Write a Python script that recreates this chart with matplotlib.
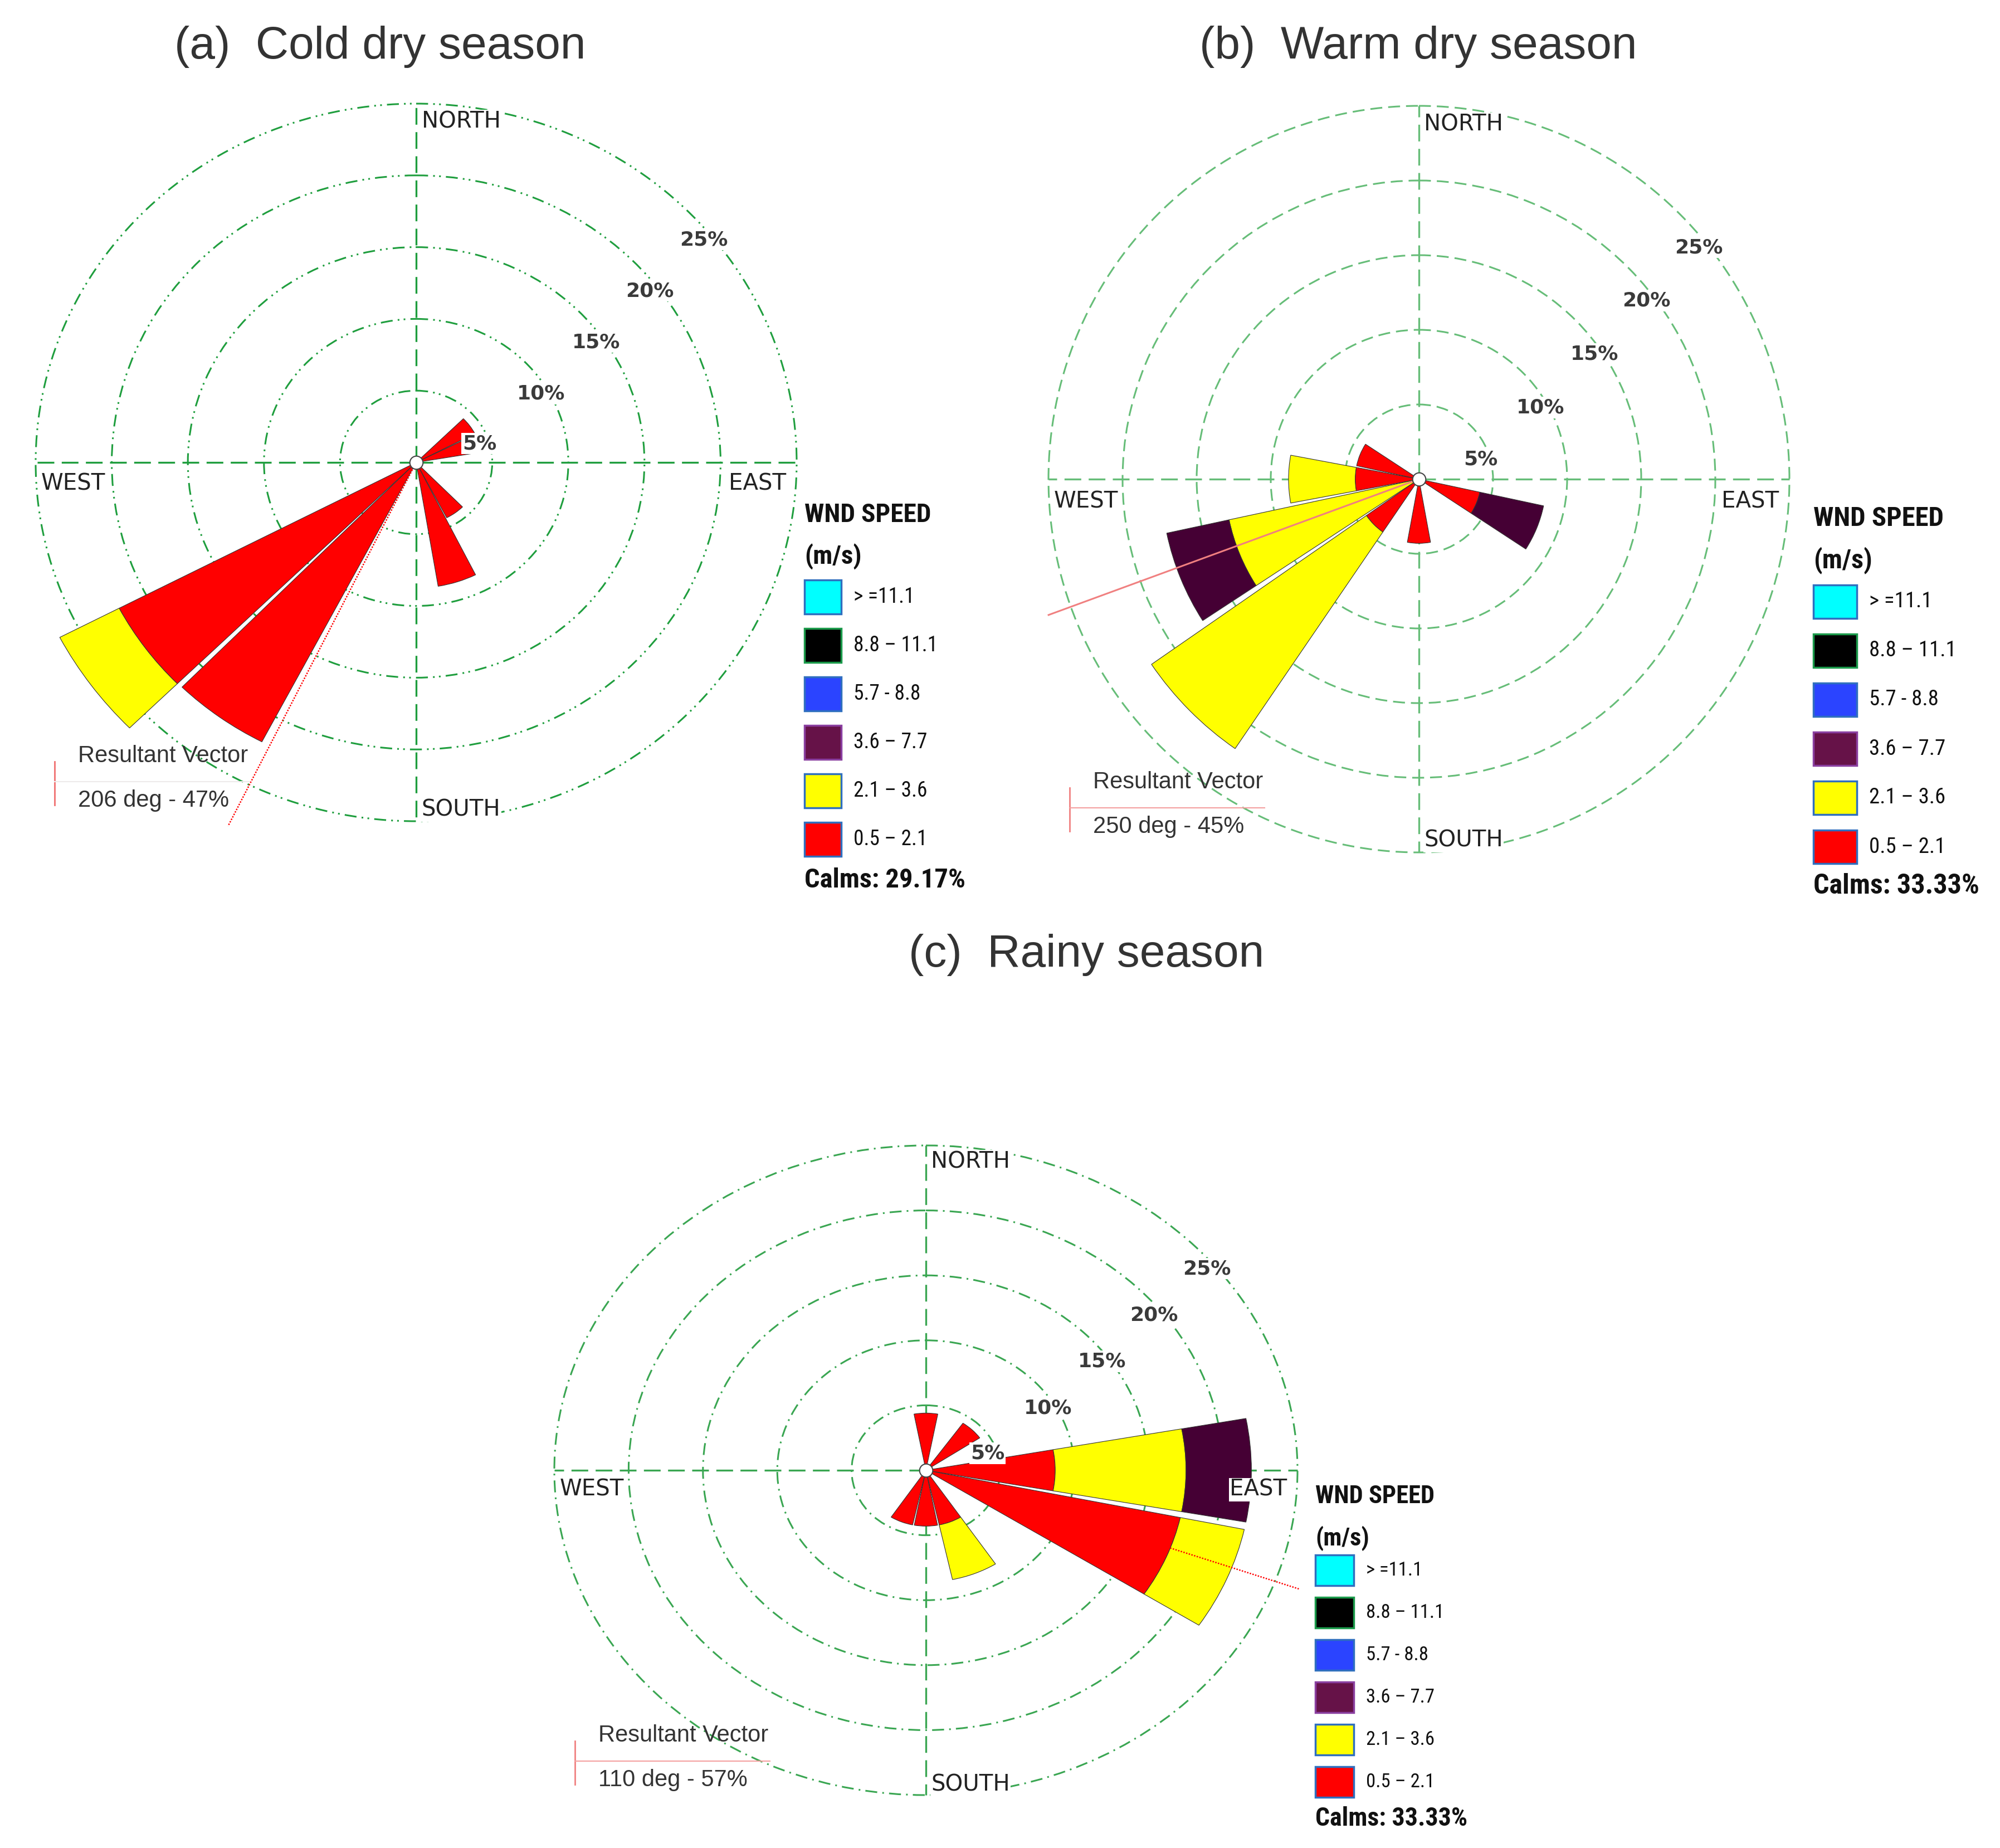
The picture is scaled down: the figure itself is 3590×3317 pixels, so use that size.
import matplotlib
matplotlib.use("Agg")
import matplotlib.pyplot as plt
import numpy as np
from matplotlib.lines import Line2D
from matplotlib.patches import Rectangle

W, H = 3590, 3317

# speed classes as listed in the legend (top to bottom)
SPEED_LABELS = ["> =11.1", "8.8 – 11.1", "5.7 - 8.8", "3.6 – 7.7", "2.1 – 3.6", "0.5 – 2.1"]
SPEED_COLORS = ["#00ffff", "#000000", "#2b44ff", "#661248", "#ffff00", "#ff0000"]
SPEED_EDGES = ["#2f6fbf", "#1a9a4a", "#2f6fbf", "#8a3fa0", "#2f6fbf", "#2f6fbf"]

RINGS = [5, 10, 15, 20, 25]
RING_LABELS = ["5%", "10%", "15%", "20%", "25%"]

# (a) cold dry season (18 deg sectors)
cold_dirs = [54, 72, 144, 162, 216, 234]
cold_red = [4.35, 4.35, 4.35, 8.75, 21.95, 22.0]
cold_yellow = [0, 0, 0, 0, 0, 4.4]
cold_purple = [0, 0, 0, 0, 0, 0]
cold_resultant = 206
cold_res_text = "206 deg - 47%"
cold_calms = "Calms: 29.17%"

# (b) warm dry season (22.5 deg sectors)
warm_dirs = [112.5, 180, 225, 247.5, 270, 292.5]
warm_red = [4.2, 4.3, 4.3, 0, 4.3, 4.3]
warm_yellow = [0, 0, 17.6, 13.1, 4.5, 0]
warm_purple = [4.4, 0, 0, 4.3, 0, 0]
warm_resultant = 250
warm_res_text = "250 deg - 45%"
warm_calms = "Calms: 33.33%"

# (c) rainy season (22.5 deg sectors)
rainy_dirs = [0, 45, 90, 112.5, 157.5, 180, 202.5]
rainy_red = [4.4, 4.4, 8.7, 17.5, 4.3, 4.3, 4.3]
rainy_yellow = [0, 0, 8.8, 4.4, 4.3, 0, 0]
rainy_purple = [0, 0, 4.4, 0, 0, 0, 0]
rainy_resultant = 110
rainy_res_text = "110 deg - 57%"
rainy_calms = "Calms: 33.33%"

RED, YELLOW, PURPLE = "#ff0000", "#ffff00", "#450034"
NARROW = ["Liberation Sans Narrow", "Roboto Condensed", "Open Sans Condensed",
          "Roboto", "DejaVu Sans"]
ARIAL = ["Liberation Sans", "DejaVu Sans"]


def fx(px):
    return px / W


def fy(py):
    return 1 - py / H


def rect(x0, y0, x1, y1):
    return [fx(x0), fy(y1), (x1 - x0) / W, (y1 - y0) / H]


fig = plt.figure(figsize=(W / 100, H / 100), dpi=100)


def draw_rose(box, dirs, width, red, yellow, purple, res_dir, res_len,
              res_style, grid_color, ring_style):
    ax = fig.add_axes(rect(*box), projection="polar")
    ax.set_aspect("auto")
    ax.set_theta_zero_location("N")
    ax.set_theta_direction(-1)

    theta = np.deg2rad(dirs)
    red = np.array(red, float)
    yellow = np.array(yellow, float)
    purple = np.array(purple, float)
    stacks = [(red, np.zeros_like(red), RED),
              (yellow, red, YELLOW),
              (purple, red + yellow, PURPLE)]
    for vals, bottom, color in stacks:
        m = vals > 0
        if m.any():
            ax.bar(theta[m], vals[m], width=np.deg2rad(width), bottom=bottom[m],
                   color=color, edgecolor="#333333", linewidth=0.8,
                   clip_on=False, zorder=3)

    ax.set_ylim(0, 25)
    ax.set_rgrids(RINGS, labels=[""] * len(RINGS))
    ax.set_thetagrids([0, 90, 180, 270], labels=[""] * 4)
    ax.yaxis.grid(True, color=grid_color, linewidth=2.2, linestyle=ring_style)
    ax.xaxis.grid(True, color=grid_color, linewidth=2.4, linestyle=(0, (9, 4)))
    for gl in ax.yaxis.get_gridlines() + ax.xaxis.get_gridlines():
        gl.set_clip_on(False)
    ax.spines["polar"].set_visible(False)
    ax.set_axisbelow(True)

    # ring percentage labels
    lab_r = [4.35, 9.5, 14.5, 19.45, 24.45]
    lab_t = [72.5, 59.7, 54.7, 52.1, 50.6]
    for r, t, s in zip(lab_r, lab_t, RING_LABELS):
        ax.text(np.deg2rad(t), r, s, ha="center", va="center", fontsize=26,
                weight="bold", color="#3a3a3a", zorder=6,
                bbox=dict(facecolor="white", edgecolor="none", pad=1.5))

    # compass labels
    kw = dict(transform=ax.transAxes, fontsize=29, color="#222222", zorder=6,
              va="center", bbox=dict(facecolor="white", edgecolor="none", pad=1))
    ax.text(0.507, 0.975, "NORTH", ha="left", **kw)
    ax.text(0.507, 0.016, "SOUTH", ha="left", **kw)
    ax.text(0.007, 0.47, "WEST", ha="left", **kw)
    ax.text(0.986, 0.47, "EAST", ha="right", **kw)

    # resultant vector
    rt = np.deg2rad(res_dir)
    ax.plot([rt, rt], [0, res_len], clip_on=False, zorder=4, **res_style)

    # calm circle at the centre
    ax.plot([0], [0], "o", ms=17, mfc="white", mec="#444444", mew=1.5,
            clip_on=False, zorder=7)
    return ax


def draw_legend(x, y_title, y_box, fs, box_w, box_h, pitch, calms, y_calms):
    head = dict(fontsize=fs + 7, weight="bold", family=NARROW, ha="left",
                va="center", color="#111111")
    fig.text(fx(x), fy(y_title), "WND SPEED", **head)
    fig.text(fx(x), fy(y_title + 75), "(m/s)", **head)
    for i, (lab, c, e) in enumerate(zip(SPEED_LABELS, SPEED_COLORS, SPEED_EDGES)):
        top = y_box + i * pitch
        fig.add_artist(Rectangle((fx(x), fy(top + box_h)), box_w / W, box_h / H,
                                 facecolor=c, edgecolor=e, linewidth=2.5,
                                 transform=fig.transFigure))
        fig.text(fx(x + box_w + 22), fy(top + box_h / 2), lab, fontsize=fs,
                 family=NARROW, ha="left", va="center", color="#111111")
    fig.text(fx(x), fy(y_calms), calms, fontsize=fs + 8, weight="bold",
             family=NARROW, ha="left", va="center", color="#111111")


def draw_res_box(x, y_top, text, color, sep_color):
    fig.text(fx(x + 42), fy(y_top), "Resultant Vector", fontsize=30,
             family=ARIAL, color="#333333", ha="left", va="center")
    fig.text(fx(x + 42), fy(y_top + 80), text, fontsize=30,
             family=ARIAL, color="#333333", ha="left", va="center")
    fig.add_artist(Line2D([fx(x), fx(x)], [fy(y_top + 10), fy(y_top + 88)],
                          color=color, lw=2, transform=fig.transFigure))
    fig.add_artist(Line2D([fx(x), fx(x + 350)], [fy(y_top + 46), fy(y_top + 46)],
                          color=sep_color, lw=1.5, transform=fig.transFigure))


# panel (a)
draw_rose((64, 186, 1430, 1474), cold_dirs, 17, cold_red, cold_yellow, cold_purple,
          cold_resultant, 28.2, dict(color="red", lw=1.8, ls=(0, (1, 1))),
          "#1f9e3e", (0, (7, 3, 1, 2.5, 1, 3)))
fig.text(fx(682), fy(84), "(a)  Cold dry season", fontsize=59, family=ARIAL,
         color="#333333", ha="center", va="center")
draw_legend(1444, 924, 1041, 27, 66, 61, 87, cold_calms, 1580)
draw_res_box(98, 1357, cold_res_text, "#f07070", "#eeeaea")

# panel (b)
draw_rose((1882, 190, 3212, 1530), warm_dirs, 21, warm_red, warm_yellow, warm_purple,
          warm_resultant, 26.6, dict(color="#f08080", lw=2.2, ls="-"),
          "#66bd78", (0, (7, 3.5)))
fig.text(fx(2546), fy(84), "(b)  Warm dry season", fontsize=59, family=ARIAL,
         color="#333333", ha="center", va="center")
draw_legend(3255, 931, 1050, 28, 78, 60, 88, warm_calms, 1590)
draw_res_box(1920, 1404, warm_res_text, "#f08080", "#f4a0a0")

# panel (c)
draw_rose((995, 2056, 2329, 3222), rainy_dirs, 21, rainy_red, rainy_yellow, rainy_purple,
          rainy_resultant, 26.7, dict(color="red", lw=1.8, ls=(0, (1, 1))),
          "#3aa652", (0, (7, 3, 1, 3)))
fig.text(fx(1950), fy(1714), "(c)  Rainy season", fontsize=59, family=ARIAL,
         color="#333333", ha="center", va="center")
draw_legend(2361, 2686, 2791, 25, 69, 55, 76, rainy_calms, 3264)
draw_res_box(1032, 3115, rainy_res_text, "#f08080", "#f4a0a0")

fig.savefig("out.png", dpi=100, facecolor="white")
